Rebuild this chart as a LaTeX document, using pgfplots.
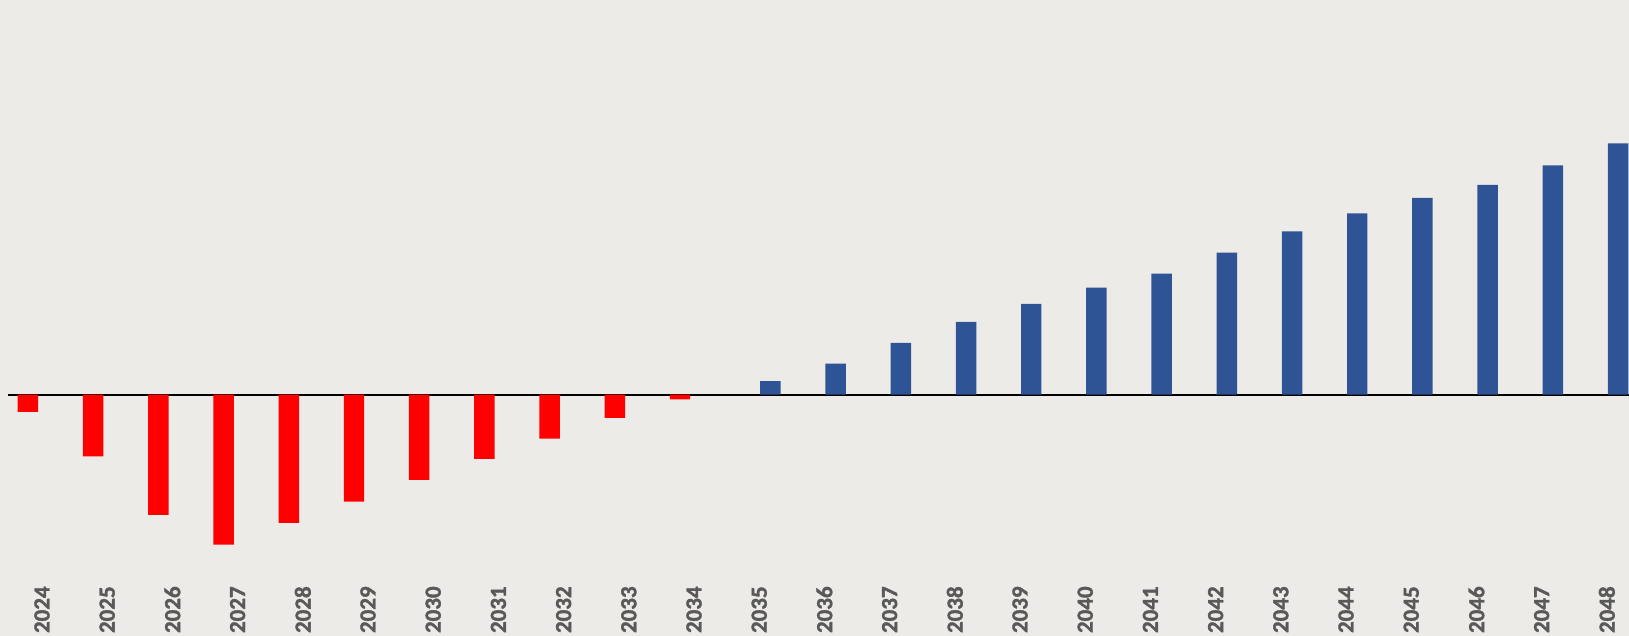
\documentclass[border=0pt]{standalone}
\usepackage{pgfplots}
\pgfplotsset{compat=1.18}
\usepackage{fontspec}
\setmainfont{Carlito}
\newfontfamily\lblfont{Carlito}[UprightFont={* Bold}, FakeBold=1.5]
\definecolor{bg}{RGB}{237,235,231}
\definecolor{neg}{RGB}{255,0,0}
\definecolor{pos}{RGB}{46,84,150}
\definecolor{lbl}{RGB}{89,89,89}
\newcommand{\yl}[1]{\mbox{\lblfont\fontsize{11.5}{13}\selectfont #1}}
\begin{document}
\begin{tikzpicture}
\useasboundingbox (0,0) rectangle (814.5pt,318pt);
\fill[bg] (0,0) rectangle (814.5pt,318pt);
\begin{axis}[
  at={(4pt,25pt)}, anchor=south west,
  scale only axis, width=810.5pt, height=293pt,
  xmin=-0.5215, xmax=24.34,
  ymin=-191.3, ymax=394.7,
  axis line style={draw=none},
  ytick=\empty,
  xtick={0,...,24},
  xticklabels={\yl{2024},\yl{2025},\yl{2026},\yl{2027},\yl{2028},\yl{2029},\yl{2030},\yl{2031},\yl{2032},\yl{2033},\yl{2034},\yl{2035},\yl{2036},\yl{2037},\yl{2038},\yl{2039},\yl{2040},\yl{2041},\yl{2042},\yl{2043},\yl{2044},\yl{2045},\yl{2046},\yl{2047},\yl{2048}},
  xticklabel style={rotate=90, anchor=east, inner sep=0pt, font=\lblfont\fontsize{11.5}{13}\selectfont, text=lbl},
  major tick length=0pt,
  extra y ticks={0}, extra y tick labels={},
  extra y tick style={grid=major, major grid style={black, line width=1pt}},
  clip=false,
]
\addplot[ybar, bar width=0.314, bar shift=-0.215, fill=neg, draw=none] coordinates {
(0,-17.3) (1,-61.6) (2,-120.3) (3,-150) (4,-128.3) (5,-107) (6,-85.3) (7,-64.3) (8,-44) (9,-23.3) (10,-4.6)
};
\addplot[ybar, bar width=0.314, bar shift=0.172, fill=pos, draw=none] coordinates {
(11,13.5) (12,31) (13,51.7) (14,72.7) (15,90.7) (16,107) (17,121) (18,142) (19,163.3) (20,181.3) (21,196.7) (22,209.7) (23,229.3) (24,251.3)
};
\end{axis}
\end{tikzpicture}
\end{document}
